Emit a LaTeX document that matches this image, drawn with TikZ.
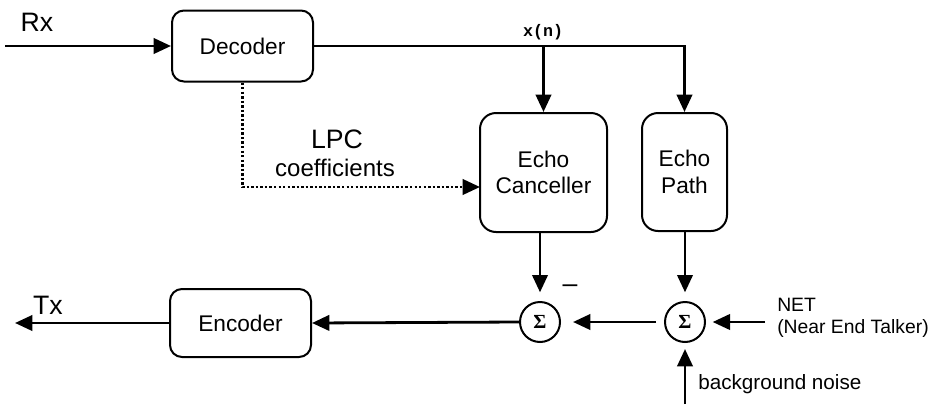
\documentclass[tikz,border=0pt]{standalone}
\usepackage{fontspec}
\setmainfont{Liberation Sans}
\newfontfamily\monob{Liberation Mono}
\newfontfamily\serifb{Liberation Serif}
\usetikzlibrary{arrows.meta}
\begin{document}
\begin{tikzpicture}[x=0.75pt,y=-0.75pt,
  blk/.style={draw, line width=1.5pt, rounded corners=9pt, inner sep=0pt, align=center,
    font=\fontsize{17}{20}\selectfont},
  sumnode/.style={draw, circle, line width=1.5pt, minimum size=30pt, inner sep=0pt,
    font=\serifb\bfseries\fontsize{15}{15}\selectfont},
  sig/.style={line width=2.1pt, -{Triangle[length=13pt,width=11.5pt]}},
  dotline/.style={line width=2.1pt, dash pattern=on 1.8pt off 1.6pt, -{Triangle[length=13pt,width=11.5pt]}},
  lbl/.style={inner sep=0pt}
]
\useasboundingbox (0,0) rectangle (936,404);

% blocks
\node[blk, minimum width=105.75pt, minimum height=53.25pt] (dec) at (242.5,46) {Decoder};
\node[blk, minimum width=105.75pt, minimum height=51pt] (enc) at (240.5,323) {Encoder};
\node[blk, rounded corners=12pt, minimum width=95.25pt, minimum height=89.25pt] (ec) at (543.5,172.5) {Echo\\Canceller};
\node[blk, rounded corners=12pt, minimum width=63.75pt, minimum height=88.5pt] (ep) at (684.5,172) {Echo\\Path};

% summing junctions
\node[sumnode] (s1) at (540,322) {Σ};
\node[sumnode] (s2) at (685,322) {Σ};

% free ends
\coordinate (rxin) at (5,46);
\coordinate (txout) at (15,323);
\coordinate (lpcin) at (480,187);
\coordinate (netin) at (765,322);
\coordinate (noisein) at (685,404);

% connectors
\draw[sig] (rxin) -- (dec.west);
\draw[sig] (dec.east) -| (ep.north);
\draw[sig] (ec.north |- dec.east) -- (ec.north);
\draw[dotline] (dec.south) |- (lpcin);
\draw[sig, shorten >=6.5pt] (ec.south -| s1) -- (s1.north);
\draw[sig, shorten >=6.5pt] (ep.south -| s2) -- (s2.north);
\draw[sig, shorten <=6pt, shorten >=9pt] (s2.west) -- (s1.east);
\draw[sig, shorten >=5pt] (netin) -- (s2.east);
\draw[sig, shorten >=4.5pt] (noisein) -- (s2.south);
\draw[sig] (s1.west) -- (enc.east);
\draw[sig] (enc.west) -- (txout);

% labels
\node[lbl, font=\fontsize{20}{22}\selectfont] (rx) at (37,22) {Rx};
\node[lbl, font=\fontsize{20}{22}\selectfont] (tx) at (48,305) {Tx};
\node[lbl, font=\monob\bfseries\fontsize{12.5}{13}\selectfont] (xn) at (543,32) {x(n)};
\node[lbl, font=\fontsize{20}{22}\selectfont] (lpc) at (337,139) {LPC};
\node[lbl, font=\fontsize{18}{20}\selectfont] (coef) at (335,168) {coefficients};
\node[lbl, font=\fontsize{20}{22}\selectfont] (minus) at (570,289) {–};
\node[lbl, anchor=west, align=left, font=\fontsize{14.5}{17}\selectfont] (net) at (777,318) {NET\\(Near End Talker)};
\node[lbl, anchor=west, font=\fontsize{15.5}{17}\selectfont] (noise) at (698,384) {background noise};
\end{tikzpicture}
\end{document}
